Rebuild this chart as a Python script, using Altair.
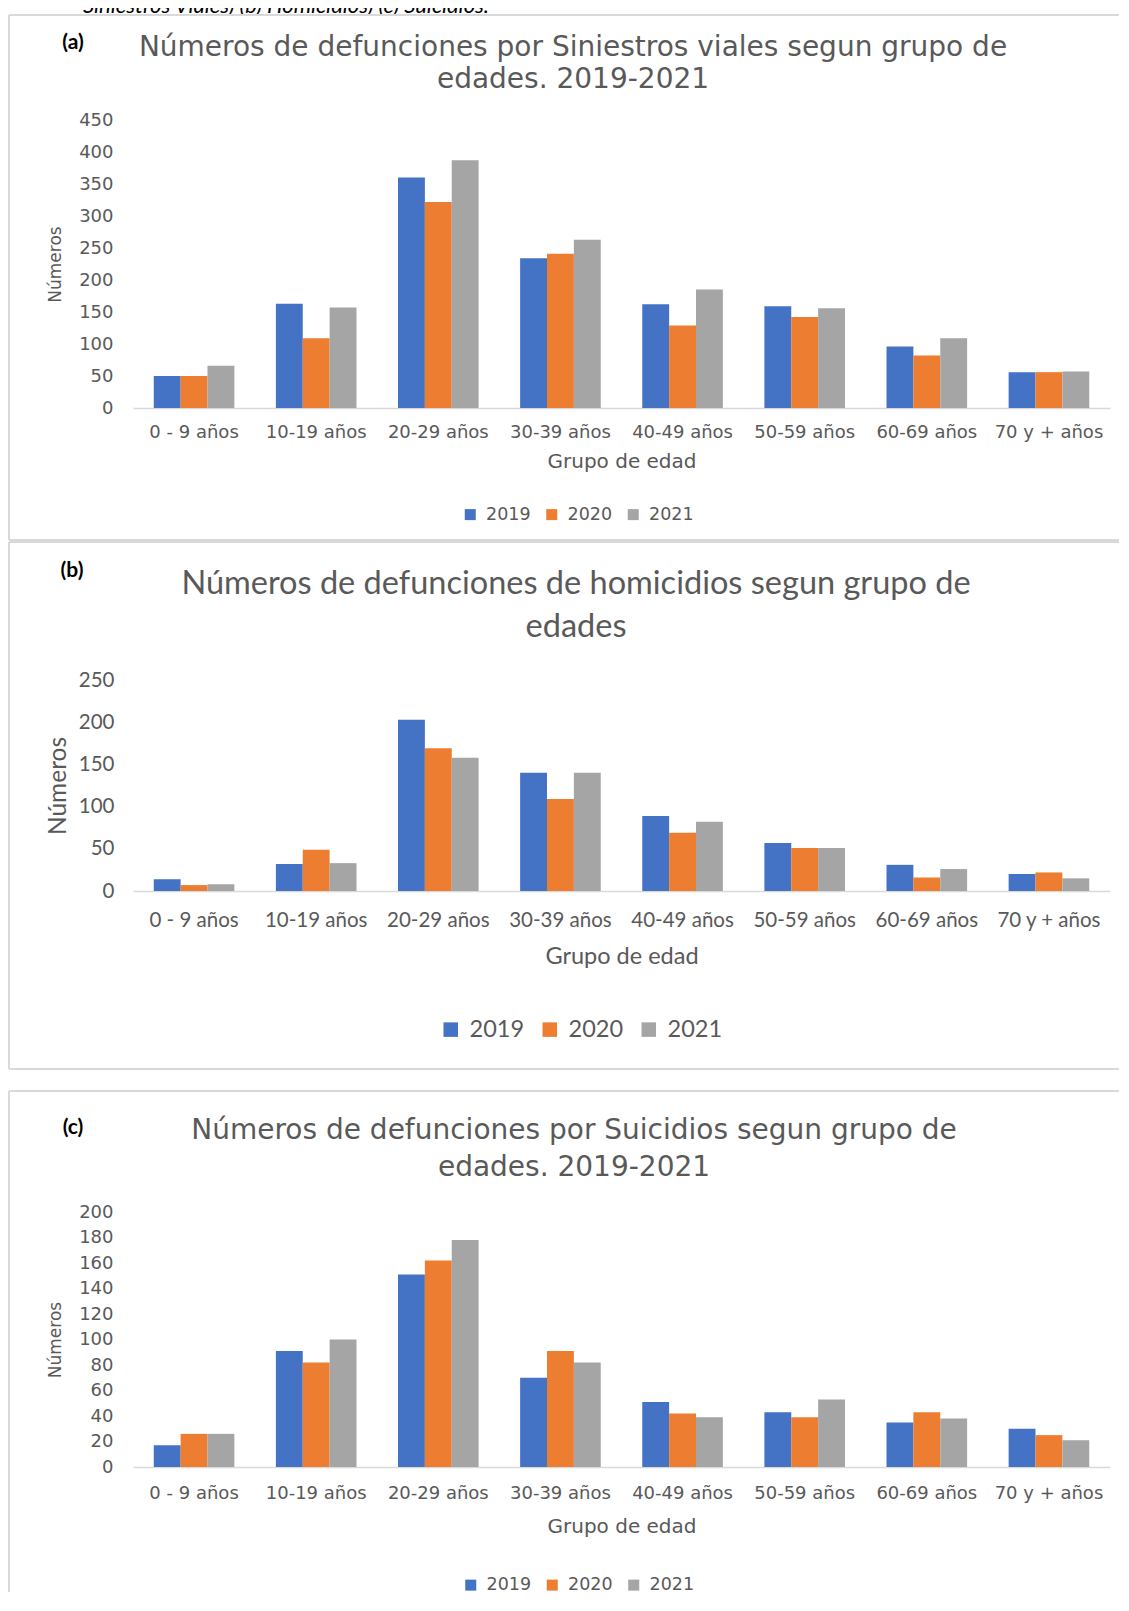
import altair as alt
import pandas as pd

AGES = ["0 - 9 años", "10-19 años", "20-29 años", "30-39 años",
        "40-49 años", "50-59 años", "60-69 años", "70 y + años"]
YEARS = ["2019", "2020", "2021"]
COLORS = ["#4472C4", "#ED7D31", "#A5A5A5"]

# (a) Siniestros viales
A_2019 = [50, 163, 360, 234, 162, 159, 96, 56]
A_2020 = [50, 109, 322, 241, 129, 142, 82, 56]
A_2021 = [66, 157, 387, 263, 185, 156, 109, 57]
# (b) Homicidios
B_2019 = [14, 32, 203, 140, 89, 57, 31, 20]
B_2020 = [7, 49, 169, 109, 69, 51, 16, 22]
B_2021 = [8, 33, 158, 140, 82, 51, 26, 15]
# (c) Suicidios
C_2019 = [17, 91, 151, 70, 51, 43, 35, 30]
C_2020 = [26, 82, 162, 91, 42, 39, 43, 25]
C_2021 = [26, 100, 178, 82, 39, 53, 38, 21]

TITLE_A = ["Números de defunciones por Siniestros viales segun grupo de", "edades. 2019-2021"]
TITLE_B = ["Números de defunciones de homicidios segun grupo de", "edades"]
TITLE_C = ["Números de defunciones por Suicidios segun grupo de", "edades. 2019-2021"]
CAPTION = "Siniestros Viales) (b) Homicidios) (c) Suicidios."

GRAY = "#595959"
BORDER = "#d9d9d9"
VIEW_W = 1110          # whole panel width (border to border)
X_RANGE = [124, 1101]  # where the bar area sits inside the panel

one = pd.DataFrame({"k": [0]})


def make_df(v19, v20, v21):
    rows = []
    for i, a in enumerate(AGES):
        for y, vals in zip(YEARS, (v19, v20, v21)):
            rows.append({"age": a, "year": y, "value": vals[i]})
    return pd.DataFrame(rows)


def txt(x, y, s, font, size, color=GRAY, weight="normal"):
    return alt.Chart(one).mark_text(
        font=font, fontSize=size, color=color, fontWeight=weight,
        align="center", baseline="middle"
    ).encode(x=alt.value(x), y=alt.value(y), text=alt.value(s))


def hrule(x1, x2, y):
    return alt.Chart(one).mark_rule(color=BORDER, strokeWidth=2).encode(
        x=alt.value(x1), x2=alt.value(x2), y=alt.value(y))


def vrule(x, y1, y2):
    return alt.Chart(one).mark_rule(color=BORDER, strokeWidth=2).encode(
        x=alt.value(x), y=alt.value(y1), y2=alt.value(y2))


def panel(df, c):
    bars = alt.Chart(df).mark_bar().encode(
        x=alt.X("age:N", sort=AGES,
                scale=alt.Scale(paddingInner=0.34, paddingOuter=0.17, range=X_RANGE),
                axis=alt.Axis(title="Grupo de edad", labelAngle=0, ticks=False, tickSize=0,
                              domainColor=BORDER, domainWidth=1.5,
                              labelFont=c["font"], labelFontSize=c["lab"], labelColor=GRAY,
                              labelPadding=c["xlp"],
                              titleFont=c["font"], titleFontSize=c["xt"], titleFontWeight="normal",
                              titleColor=GRAY, titlePadding=c["xtp"])),
        xOffset=alt.XOffset("year:N", sort=YEARS),
        y=alt.Y("value:Q", scale=alt.Scale(domain=[0, c["ymax"]], nice=False),
                axis=alt.Axis(values=c["yvals"], title="Números", domain=False, ticks=False,
                              tickSize=0, grid=False, offset=-X_RANGE[0],
                              labelFont=c["font"], labelFontSize=c["lab"], labelColor=GRAY,
                              labelPadding=c["ylp"],
                              titleFont=c["font"], titleFontSize=c["yt"], titleFontWeight="normal",
                              titleColor=GRAY, titlePadding=c["ytp"])),
        color=alt.Color("year:N", sort=YEARS,
                        scale=alt.Scale(domain=YEARS, range=COLORS),
                        legend=alt.Legend(title=None, orient="none", legendX=c["lx"], legendY=c["ly"],
                                          direction="horizontal", symbolType="square",
                                          symbolSize=c["ss"], symbolStrokeWidth=0,
                                          labelFont=c["font"], labelFontSize=c["lf"],
                                          labelColor=GRAY, labelOffset=7,
                                          columnPadding=c["cp"], padding=0)),
    )
    layers = [bars]
    L, R, T, B = 0, VIEW_W, c["top"], c["bottom"]
    layers.append(hrule(L, R, T))
    layers.append(vrule(L, T, B))
    if c["bottom_line"]:
        layers.append(hrule(L, R, B))
    layers.append(txt(c["tx"], c["ty1"], c["title"][0], c["tfont"], c["tsize"]))
    layers.append(txt(c["tx"], c["ty2"], c["title"][1], c["tfont"], c["tsize"]))
    layers.append(txt(c["px"], c["py"], c["tag"], "Lato", 21, "#000000", "bold"))
    return alt.layer(*layers).properties(width=VIEW_W, height=c["h"])


pa = panel(make_df(A_2019, A_2020, A_2021), dict(
    font="DejaVu Sans", lab=18, xlp=15, xt=20, xtp=10, yt=17, ytp=14, ylp=20,
    ymax=450, yvals=list(range(0, 451, 50)), h=288,
    lx=452.5, ly=385.5, ss=121, lf=17.5, cp=11.5,
    top=-105, bottom=420, bottom_line=True,
    tx=564, ty1=-72, ty2=-40, title=TITLE_A, tfont="DejaVu Sans", tsize=28,
    px=64, py=-77, tag="(a)"))

pb = panel(make_df(B_2019, B_2020, B_2021), dict(
    font="Lato", lab=20.5, xlp=19, xt=23.5, xtp=14, yt=24.5, ytp=7.5, ylp=19,
    ymax=250, yvals=list(range(0, 251, 50)), h=211,
    lx=430, ly=337.5, ss=210, lf=23.5, cp=13,
    top=-138, bottom=389, bottom_line=True,
    tx=567, ty1=-96, ty2=-53, title=TITLE_B, tfont="Lato", tsize=32.5,
    px=63, py=-109, tag="(b)"))

pc = panel(make_df(C_2019, C_2020, C_2021), dict(
    font="DejaVu Sans", lab=18, xlp=17, xt=20, xtp=14, yt=17, ytp=14, ylp=20,
    ymax=200, yvals=list(range(0, 201, 20)), h=255,
    lx=453, ly=364, ss=121, lf=17.5, cp=11.5,
    top=-121, bottom=380, bottom_line=False,
    tx=565, ty1=-81, ty2=-44, title=TITLE_C, tfont="DejaVu Sans", tsize=28,
    px=64, py=-84, tag="(c)"))

caption = alt.Chart(one).mark_text(
    clip=True, align="right", baseline="alphabetic", font="Lato", fontSize=22,
    fontStyle="italic", color="#000000"
).encode(x=alt.value(480), y=alt.value(5), text=alt.value(CAPTION)).properties(width=1100, height=6)

ab = alt.vconcat(pa, pb, spacing=0).resolve_scale(color="independent").resolve_legend(color="independent")
abc = alt.vconcat(ab, pc, spacing=20).resolve_scale(color="independent").resolve_legend(color="independent")
chart = alt.vconcat(caption, abc, spacing=0).resolve_scale(color="independent").resolve_legend(
    color="independent").properties(padding=0, background="white").configure_view(stroke=None)

chart.save("out.html", embed_options={"renderer": "svg", "actions": False})
